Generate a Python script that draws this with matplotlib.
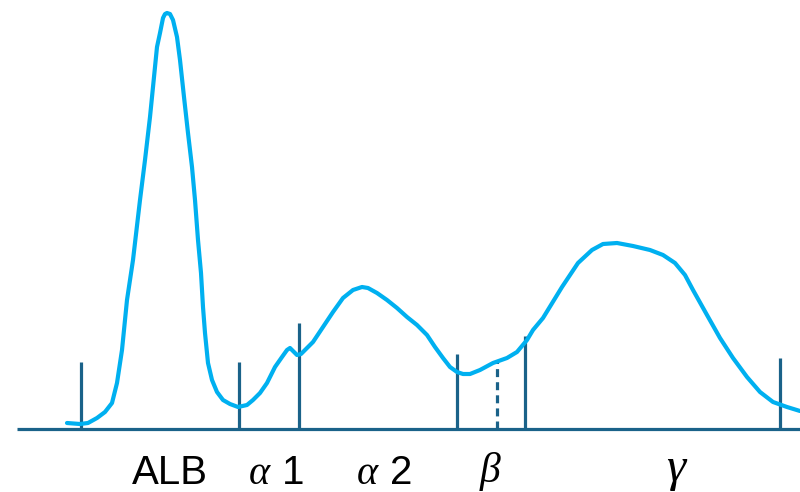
import numpy as np
import matplotlib
matplotlib.use("Agg")
import matplotlib.pyplot as plt

# densitometry trace (x position, height above baseline)
trace_x = [67, 80, 88, 97, 105, 112, 117, 122, 127, 133, 140, 145, 150, 154,
           157, 160, 163, 165, 167, 170, 173, 177, 180, 184, 188, 192, 195, 198,
           201, 203, 205, 208, 212, 217, 223, 230, 238, 247, 253, 260, 267, 275,
           282, 287, 290, 293, 297, 301, 308, 313, 323, 333, 343, 353, 362, 368,
           377, 387, 397, 407, 417, 427, 435, 443, 450, 457, 463, 470, 480, 493,
           507, 517, 527, 533, 543, 562, 578, 592, 603, 617, 633, 650, 663, 675,
           685, 693, 707, 720, 733, 747, 760, 773, 787, 800]
trace_h = [6, 5, 6, 11, 17, 26, 46, 79, 129, 169, 229, 269, 312, 352,
           382, 396, 411, 415, 416, 415, 409, 392, 369, 332, 296, 262, 229, 189,
           156, 122, 96, 66, 49, 37, 29, 25, 22, 24, 29, 36, 46, 62,
           72, 79, 81, 78, 74, 75, 82, 87, 102, 117, 131, 139, 142, 141,
           136, 129, 121, 112, 104, 94, 82, 71, 62, 57, 55, 55, 59, 66,
           71, 77, 89, 99, 111, 142, 166, 179, 185, 186, 183, 179, 174, 166,
           154, 139, 114, 91, 71, 52, 37, 27, 22, 18]

# fraction boundaries
cut_x = [81, 239, 299, 457, 525, 780]
cut_h = [67, 67, 106, 75, 93, 71]
split_x = 497      # beta1 / beta2 split (dashed)
split_h = 67

labels = ["ALB", "α 1", "α 2", "β", "γ"]
label_x = [170, 274, 382, 490, 676]

curve_col = "#00b0f0"
line_col = "#1a6289"

fig = plt.figure(figsize=(8, 4.92), dpi=100)
ax = fig.add_axes([0, 0, 1, 1])
ax.set_xlim(0, 800)
ax.set_ylim(-63, 429)
ax.axis("off")

# baseline
ax.plot([17, 800], [0, 0], color=line_col, lw=2.3, solid_capstyle="butt")

# boundaries
ax.vlines(cut_x, 0, cut_h, color=line_col, lw=2.3)
ax.vlines(split_x, 0, split_h, color=line_col, lw=2.3, linestyles=(0, (2.5, 1.6)))

# trace
ax.plot(trace_x, trace_h, color=curve_col, lw=3.0, solid_joinstyle="round",
        solid_capstyle="round")

# band names: greek letter in serif italic, the rest in sans
greek = "αβγ"
for lab, x in zip(labels, label_x):
    if lab[0] in greek:
        sym, rest = lab[0], lab[1:].strip()
        if rest:
            ax.text(x - 4, -55, sym, ha="right", va="baseline", fontsize=29,
                    fontfamily="Liberation Serif", fontstyle="italic")
            ax.text(x + 8, -55, rest, ha="left", va="baseline", fontsize=29,
                    fontfamily="Liberation Sans")
        else:
            size = 35 if sym == "γ" else 30
            ax.text(x, -52 if sym == "γ" else -53, sym, ha="center", va="baseline",
                    fontsize=size, fontfamily="Liberation Serif", fontstyle="italic")
    else:
        ax.text(x, -55, lab, ha="center", va="baseline", fontsize=29,
                fontfamily="Liberation Sans")

fig.savefig("out.png", dpi=100)
